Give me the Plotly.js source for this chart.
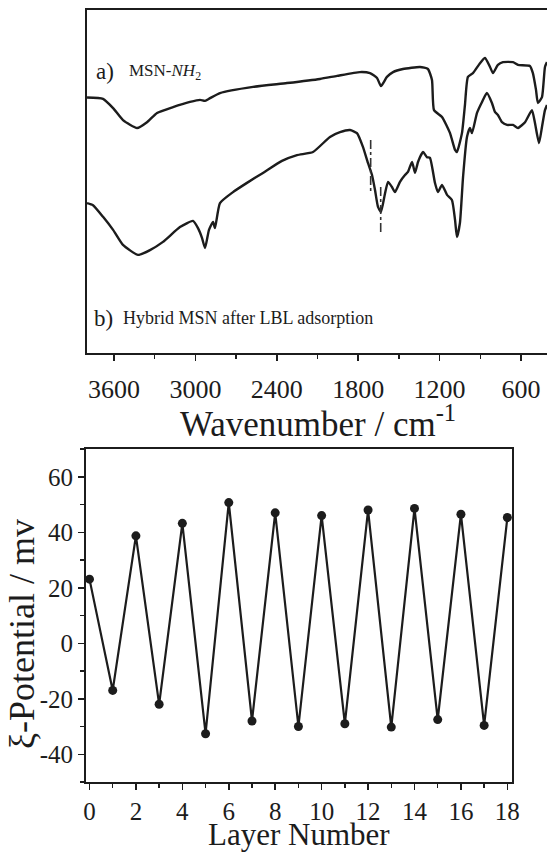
<!DOCTYPE html>
<html>
<head>
<meta charset="utf-8">
<script src="https://cdn.plot.ly/plotly-3.0.1.min.js"></script>
<style>html,body{margin:0;padding:0;background:#fff;}#chart{width:547px;height:854px;}</style>
</head>
<body>
<div id="chart"></div>
<script>
// ---- FTIR spectrum (a) MSN-NH2 : wavenumber (cm-1) / transmittance (a.u.)
const wnA = [3799,3681,3607,3534,3430,3357,3283,3165,3040,2966,2929,2892,2819,2575,2325,2082,1956,1787,1713,1661,1632,1588,1543,1470,1344,1286,1256,1241,1182,1123,1086,1072,1035,1013,991,954,902,865,828,806,770,733,659,622,534,512,489,475,445,423,408];
const tA  = [74.5,74.1,71.4,67.9,65.6,67.3,70.0,71.7,73.2,73.8,73.5,74.3,75.8,77.6,78.7,79.9,80.8,81.9,81.6,80.2,77.8,80.5,81.9,82.8,83.4,82.8,79.6,70.8,68.8,64.1,59.2,58.6,64.1,72.3,80.5,81.6,84.5,86.0,83.4,81.6,84.0,84.8,84.8,84.0,83.7,81.6,76.7,72.9,74.6,83.4,84.8];
// ---- FTIR spectrum (b) Hybrid MSN after LBL adsorption
const wnB = [3799,3755,3681,3607,3534,3423,3335,3239,3114,3018,2981,2951,2929,2900,2870,2856,2819,2723,2620,2502,2362,2251,2133,2008,1934,1860,1809,1765,1728,1698,1676,1654,1632,1602,1580,1551,1529,1492,1455,1433,1403,1381,1359,1322,1293,1271,1234,1212,1182,1145,1109,1086,1072,1050,1027,998,976,961,924,887,851,814,792,770,740,703,659,622,570,519,497,467,445,423,408];
const tB  = [43.7,43.1,39.7,35.9,31.5,28.6,30.0,32.4,36.7,38.5,36.4,33.5,30.6,35.9,38.2,36.4,43.7,46.9,49.6,52.5,56.0,57.7,58.6,63.0,64.4,65.0,64.1,60.1,55.4,51.9,47.5,42.6,41.1,46.6,49.9,48.4,46.9,49.9,51.9,52.8,55.7,52.5,55.7,58.6,57.1,56.9,49.6,46.9,49.0,46.1,44.6,38.8,33.8,37.9,51.3,63.0,65.6,64.1,70.0,73.2,75.8,72.9,70.3,69.4,67.3,66.5,66.5,65.6,67.3,70.8,67.1,61.2,65.9,70.8,72.3];
// ---- guide markers (dash-dot) at bands
const guide1Wn = [1708,1708];
const guide1T  = [62.1,46.6];
const guide2Wn = [1634,1634];
const guide2T  = [48.4,35.3];
// ---- Zeta potential vs layer number
const layers = [0,1,2,3,4,5,6,7,8,9,10,11,12,13,14,15,16,17,18];
const zeta   = [23.1,-17,38.7,-22,43.2,-32.6,50.7,-28,47,-30,46,-29,48,-30.2,48.6,-27.5,46.5,-29.6,45.3];
// ---- tick values and titles
const wnTicks = [3600,3000,2400,1800,1200,600];
const layerTicks = [0,2,4,6,8,10,12,14,16,18];
const zetaTicks = [-40,-20,0,20,40,60];
const titleWn = 'Wavenumber / cm<sup>-1</sup>';
const titleLayer = 'Layer Number';
const titleZeta = 'ξ-Potential / mv';

const ink = '#1c1c1c';
const serif = 'Liberation Serif';

const traces = [
  {x: wnA, y: tA, xaxis:'x', yaxis:'y', mode:'lines', line:{color:ink, width:2.4, shape:'spline', smoothing:0.5}, hoverinfo:'skip'},
  {x: wnB, y: tB, xaxis:'x', yaxis:'y', mode:'lines', line:{color:ink, width:2.4, shape:'spline', smoothing:0.5}, hoverinfo:'skip'},
  {x: guide1Wn, y: guide1T, xaxis:'x', yaxis:'y', mode:'lines', line:{color:'#333', width:1.6, dash:'dashdot'}, hoverinfo:'skip'},
  {x: guide2Wn, y: guide2T, xaxis:'x', yaxis:'y', mode:'lines', line:{color:'#333', width:1.6, dash:'dashdot'}, hoverinfo:'skip'},
  {x: layers, y: zeta, xaxis:'x2', yaxis:'y2', mode:'lines+markers', line:{color:ink, width:2.2}, marker:{color:ink, size:9}, hoverinfo:'skip'}
];

const layout = {
  width: 547, height: 854,
  margin: {l:0, r:0, t:0, b:0},
  paper_bgcolor:'#fff', plot_bgcolor:'#fff',
  showlegend:false,
  font:{family:serif, color:ink},
  xaxis: {
    domain:[86.5/547, 1], anchor:'y', range:[3803, 408],
    showline:true, linecolor:ink, linewidth:2, mirror:true,
    ticks:'outside', ticklen:6, tickwidth:1.5, tickcolor:ink,
    ticklabelstandoff:6,
    tickvals: wnTicks, ticktext: wnTicks.map(String),
    minor:{dtick:300, tick0:0, ticks:'outside', ticklen:4, tickwidth:1.5, tickcolor:ink},
    tickfont:{family:serif, size:26, color:ink},
    showgrid:false, zeroline:false
  },
  yaxis: {
    domain:[1-353/854, 1-10/854], anchor:'x', range:[0,100],
    showline:true, linecolor:ink, linewidth:2, mirror:false,
    ticks:'', showticklabels:false, showgrid:false, zeroline:false
  },
  xaxis2: {
    domain:[86/547, 512/547], anchor:'y2', range:[-0.15, 18.2],
    showline:true, linecolor:ink, linewidth:2, mirror:true,
    ticks:'outside', ticklen:6, tickwidth:1.5, tickcolor:ink,
    tickvals: layerTicks, ticktext: layerTicks.map(String),
    minor:{dtick:1, tick0:0, ticks:'outside', ticklen:4, tickwidth:1.5, tickcolor:ink},
    tickfont:{family:serif, size:25, color:ink},
    showgrid:false, zeroline:false
  },
  yaxis2: {
    domain:[1-782/854, 1-449/854], anchor:'x2', range:[-50,70],
    showline:true, linecolor:ink, linewidth:2, mirror:true,
    ticks:'outside', ticklen:6, tickwidth:1.5, tickcolor:ink,
    tickvals: zetaTicks, ticktext: zetaTicks.map(String),
    minor:{dtick:10, tick0:0, ticks:'outside', ticklen:4, tickwidth:1.5, tickcolor:ink},
    tickfont:{family:serif, size:25, color:ink},
    showgrid:false, zeroline:false
  },
  annotations: [
    {xref:'paper', yref:'paper', x:94/547, y:1-72/854, xanchor:'left', yanchor:'middle', showarrow:false, text:'a)', font:{family:serif, size:23, color:ink}},
    {xref:'paper', yref:'paper', x:127/547, y:1-72/854, xanchor:'left', yanchor:'middle', showarrow:false, text:'MSN-<i>NH</i><sub>2</sub>', font:{family:serif, size:17, color:ink}},
    {xref:'paper', yref:'paper', x:92/547, y:1-318/854, xanchor:'left', yanchor:'middle', showarrow:false, text:'b)', font:{family:serif, size:23, color:ink}},
    {xref:'paper', yref:'paper', x:121/547, y:1-318/854, xanchor:'left', yanchor:'middle', showarrow:false, text:'Hybrid MSN after LBL adsorption', font:{family:serif, size:18, color:ink}},
    {xref:'paper', yref:'paper', x:318/547, y:1-421/854, xanchor:'center', yanchor:'middle', showarrow:false, text:titleWn, font:{family:serif, size:35, color:ink}},
    {xref:'paper', yref:'paper', x:299/547, y:1-834/854, xanchor:'center', yanchor:'middle', showarrow:false, text:titleLayer, font:{family:serif, size:31, color:ink}},
    {xref:'paper', yref:'paper', x:22/547, y:1-634/854, xanchor:'center', yanchor:'middle', showarrow:false, textangle:-90, text:titleZeta, font:{family:serif, size:36, color:ink}}
  ]
};

Plotly.newPlot('chart', traces, layout, {displayModeBar:false, staticPlot:true});
</script>
</body>
</html>
